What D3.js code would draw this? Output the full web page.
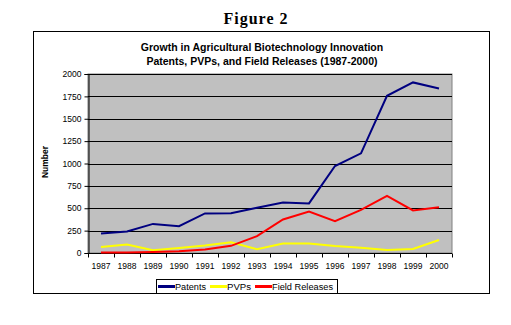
<!DOCTYPE html>
<html>
<head>
<meta charset="utf-8">
<script src="https://cdn.jsdelivr.net/npm/d3@7"></script>
<style>
  body { margin: 0; background: #fff; }
  svg { display: block; }
</style>
</head>
<body>
<div id="chart"></div>
<script>
const years = ["1987","1988","1989","1990","1991","1992","1993","1994","1995","1996","1997","1998","1999","2000"];
const patents = [217, 240, 325, 300, 442, 445, 505, 565, 554, 972, 1114, 1757, 1906, 1839];
const pvps = [67, 94, 30, 56, 83, 120, 41, 105, 105, 79, 60, 34, 45, 146];
const fieldReleases = [5, 5, 10, 20, 38, 80, 188, 374, 464, 355, 482, 639, 475, 512];
const yTicks = [0, 250, 500, 750, 1000, 1250, 1500, 1750, 2000];

const width = 511, height = 325;
const plot = {left: 88, right: 452, top: 74, bottom: 253};
const sans = "'Liberation Sans', Arial, sans-serif";

const svg = d3.select("#chart").append("svg")
    .attr("width", width)
    .attr("height", height);

// Figure caption
svg.append("text")
    .attr("x", 256).attr("y", 24)
    .attr("text-anchor", "middle")
    .attr("font-family", "'Liberation Serif', serif")
    .attr("font-size", "16px")
    .attr("font-weight", "bold")
    .attr("letter-spacing", "1px")
    .text("Figure 2");

// Chart outer frame
svg.append("rect")
    .attr("x", 33.5).attr("y", 31.5)
    .attr("width", 456).attr("height", 262)
    .attr("fill", "white").attr("stroke", "black").attr("stroke-width", 1);

// Chart title
const title = svg.append("text")
    .attr("text-anchor", "middle")
    .attr("font-family", sans)
    .attr("font-size", "10.5px")
    .attr("font-weight", "bold");
title.append("tspan").attr("x", 262).attr("y", 51).text("Growth in Agricultural Biotechnology Innovation");
title.append("tspan").attr("x", 262).attr("y", 65).text("Patents, PVPs, and Field Releases (1987-2000)");

// Scales
const x = d3.scaleBand().domain(years).range([plot.left, plot.right]);
const y = d3.scaleLinear().domain([0, 2000]).range([plot.bottom, plot.top]);

// Plot area
svg.append("rect")
    .attr("x", plot.left).attr("y", plot.top)
    .attr("width", plot.right - plot.left).attr("height", plot.bottom - plot.top)
    .attr("fill", "#c0c0c0").attr("stroke", "#808080").attr("stroke-width", 1);

// Gridlines
svg.append("g").selectAll("line")
    .data(yTicks.filter(d => d > 0))
    .enter().append("line")
    .attr("x1", plot.left).attr("x2", plot.right)
    .attr("y1", d => Math.round(y(d)) + 0.5).attr("y2", d => Math.round(y(d)) + 0.5)
    .attr("stroke", "black").attr("stroke-width", 1);

// Y axis
const yAxis = svg.append("g")
    .attr("transform", `translate(${plot.left + 0.5},0)`)
    .call(d3.axisLeft(y).tickValues(yTicks).tickFormat(d3.format("d")).tickSize(4).tickPadding(3));
yAxis.select(".domain").attr("stroke", "black");
yAxis.selectAll("text")
    .attr("font-family", sans)
    .attr("font-size", "8.5px").attr("fill", "black");

// X axis: ticks between categories
const xAxisG = svg.append("g").attr("transform", `translate(0,${plot.bottom + 0.5})`);
xAxisG.append("line")
    .attr("x1", plot.left).attr("x2", plot.right)
    .attr("stroke", "black");
xAxisG.selectAll("line.tick")
    .data(years.concat(["end"]))
    .enter().append("line")
    .attr("class", "tick")
    .attr("x1", (d, i) => plot.left + i * x.bandwidth() + 0.5)
    .attr("x2", (d, i) => plot.left + i * x.bandwidth() + 0.5)
    .attr("y1", 0).attr("y2", 4)
    .attr("stroke", "black");
xAxisG.selectAll("text")
    .data(years)
    .enter().append("text")
    .attr("x", d => x(d) + x.bandwidth() / 2)
    .attr("y", 15)
    .attr("text-anchor", "middle")
    .attr("font-family", sans)
    .attr("font-size", "8.5px")
    .text(d => d);

// Y axis label
svg.append("text")
    .attr("transform", `translate(48,162) rotate(-90)`)
    .attr("text-anchor", "middle")
    .attr("font-family", sans)
    .attr("font-size", "8.5px")
    .attr("font-weight", "bold")
    .text("Number");

// Lines
const series = [
    {name: "Patents", values: patents, color: "#000080"},
    {name: "PVPs", values: pvps, color: "#ffff00"},
    {name: "Field Releases", values: fieldReleases, color: "#ff0000"}
];

const line = d3.line()
    .x((d, i) => x(years[i]) + x.bandwidth() / 2)
    .y(d => y(d));

series.forEach(s => {
    svg.append("path")
        .datum(s.values)
        .attr("d", line)
        .attr("fill", "none")
        .attr("stroke", s.color)
        .attr("stroke-width", 2);
});

// Legend
const legend = svg.append("g");
legend.append("rect")
    .attr("x", 156.5).attr("y", 279.5)
    .attr("width", 181).attr("height", 14)
    .attr("fill", "white").attr("stroke", "black");
const legendItems = [
    {x0: 158, x1: 175, tx: 175, w: 31},
    {x0: 210, x1: 227, tx: 227, w: 24},
    {x0: 255, x1: 272, tx: 272, w: 61}
];
series.forEach((s, i) => {
    const it = legendItems[i];
    legend.append("line")
        .attr("x1", it.x0).attr("x2", it.x1)
        .attr("y1", 286.5).attr("y2", 286.5)
        .attr("stroke", s.color).attr("stroke-width", 3);
    legend.append("text")
        .attr("x", it.tx).attr("y", 290)
        .attr("font-family", sans)
        .attr("font-size", "8.5px")
        .attr("textLength", it.w)
        .attr("lengthAdjust", "spacingAndGlyphs")
        .text(s.name);
});
</script>
</body>
</html>
